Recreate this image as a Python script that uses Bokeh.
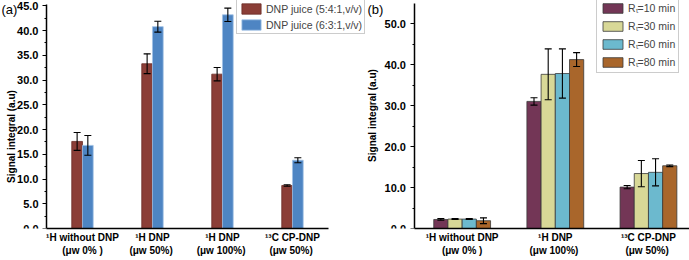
import math
from bokeh.plotting import figure
from bokeh.models import (ColumnDataSource, Whisker, TeeHead, Range1d, FixedTicker,
                          PrintfTickFormatter, Legend, LegendItem, Label)
from bokeh.layouts import row
from bokeh.embed import file_html
from bokeh.resources import INLINE

# ---------------- data: panel (a) ----------------
a_categories = ["¹H without DNP\n(μw 0% )", "¹H DNP\n(μw  50%)",
                "¹H DNP\n(μw  100%)", "¹³C CP-DNP\n(μw  50%)"]
a_series = ["DNP juice (5:4:1,v/v)", "DNP juice (6:3:1,v/v)"]
a_541 = [17.6, 33.3, 31.2, 8.7]
a_541_err = [1.8, 2.0, 1.35, 0.15]
a_631 = [16.8, 40.8, 43.2, 13.8]
a_631_err = [2.0, 1.1, 1.35, 0.5]
a_yticks = [0, 5, 10, 15, 20, 25, 30, 35, 40, 45]
a_yminor = [2.5, 7.5, 12.5, 17.5, 22.5, 27.5, 32.5, 37.5, 42.5]
a_ymax = 45.3

# ---------------- data: panel (b) ----------------
b_categories = ["¹H without DNP\n(μw 0% )", "¹H DNP\n(μw  100%)", "¹³C CP-DNP\n(μw  50%)"]
b_series = ["Rₜ=10 min", "Rₜ=30 min", "Rₜ=60 min", "Rₜ=80 min"]
b_10 = [2.2, 31.0, 10.1]
b_10_err = [0.2, 0.9, 0.4]
b_30 = [2.3, 37.6, 13.4]
b_30_err = [0.1, 6.2, 3.2]
b_60 = [2.3, 37.8, 13.7]
b_60_err = [0.1, 6.0, 3.3]
b_80 = [1.9, 41.2, 15.3]
b_80_err = [0.7, 1.7, 0.2]
b_yticks = [0, 10, 20, 30, 40, 50]
b_yminor = [5, 15, 25, 35, 45]
b_ymax = 55

FONT = "Liberation Sans"
H = 260
BOTTOM = 32
FRAME_H = H - BOTTOM


def make_panel(width, axis_px, unit_px, first_gap, axis_len_px, ymax, px_per_y,
               yticks, yminor, labels, ylabel_x, ylabel_y, tag, tag_x):
    n = len(labels)
    axis_x = 1 - first_gap          # data x where the y axis sits
    xstart = axis_x - axis_px / unit_px
    xend = xstart + width / unit_px
    p = figure(width=width, height=H, output_backend="svg", toolbar_location=None,
               x_range=Range1d(xstart, xend), y_range=Range1d(0, FRAME_H / px_per_y),
               min_border_left=0, min_border_right=0, min_border_top=0,
               min_border_bottom=BOTTOM)
    p.xgrid.visible = False
    p.ygrid.visible = False
    p.outline_line_color = None
    p.yaxis.fixed_location = axis_x
    p.yaxis.bounds = (0, ymax)
    p.xaxis.bounds = (axis_x, min(xend, axis_x + axis_len_px / unit_px))
    p.yaxis.ticker = FixedTicker(ticks=yticks, minor_ticks=yminor)
    p.yaxis.formatter = PrintfTickFormatter(format="%.1f")
    p.xaxis.ticker = FixedTicker(ticks=list(range(1, n + 1)))
    p.xaxis.major_label_overrides = {i + 1: lab for i, lab in enumerate(labels)}
    for ax in (p.xaxis[0], p.yaxis[0]):
        ax.axis_line_color = "black"
        ax.axis_line_width = 1.5
        ax.major_label_text_font = FONT
        ax.major_label_text_font_style = "bold"
        ax.major_label_text_color = "black"
    p.xaxis.major_label_text_font_size = "10px"
    p.yaxis.major_label_text_font_size = "11px"
    p.xaxis.major_tick_line_color = None
    p.xaxis.minor_tick_line_color = None
    p.xaxis.major_tick_in = 0
    p.xaxis.major_tick_out = 0
    p.xaxis.minor_tick_in = 0
    p.xaxis.minor_tick_out = 0
    p.xaxis.major_label_standoff = 3
    p.yaxis.major_tick_in = 0
    p.yaxis.major_tick_out = 4
    p.yaxis.minor_tick_in = 0
    p.yaxis.minor_tick_out = 2
    p.yaxis.major_tick_line_color = "black"
    p.yaxis.minor_tick_line_color = "black"
    p.yaxis.major_tick_line_width = 1.2
    p.yaxis.major_label_standoff = 4
    p.add_layout(Label(x=ylabel_x, y=FRAME_H - ylabel_y, x_units="screen", y_units="screen",
                       text="Signal integral (a.u)", angle=math.pi / 2,
                       text_font=FONT, text_font_style="bold", text_font_size="10px",
                       text_align="center", text_baseline="middle", text_color="black"))
    p.add_layout(Label(x=tag_x, y=FRAME_H - 1, x_units="screen", y_units="screen",
                       text=tag, text_font=FONT, text_font_size="13px",
                       text_baseline="top", text_align="left", text_color="black"))
    return p


def add_bars(p, groups, series, colors, lines, bw):
    xs0 = list(range(1, len(groups[0][0]) + 1))
    items = []
    m = len(groups)
    for k, (vals, errs) in enumerate(groups):
        off = (k - (m - 1) / 2) * bw
        xs = [x + off for x in xs0]
        src = ColumnDataSource(dict(x=xs, top=vals,
                                    upper=[v + e for v, e in zip(vals, errs)],
                                    lower=[v - e for v, e in zip(vals, errs)]))
        r = p.vbar(x="x", top="top", width=bw, source=src, fill_color=colors[k],
                   line_color=lines[k], line_width=0.8)
        items.append(LegendItem(label=series[k], renderers=[r]))
        p.add_layout(Whisker(base="x", upper="upper", lower="lower", source=src,
                             line_color="black", line_width=1.1, level="overlay",
                             upper_head=TeeHead(size=7, line_color="black", line_width=1.1),
                             lower_head=TeeHead(size=7, line_color="black", line_width=1.1)))
    return items


# ---------------- panel (a) ----------------
pa = make_panel(365, 46, 70.0, 0.514, 282, a_ymax, 4.947, a_yticks, a_yminor,
                a_categories, ylabel_x=11, ylabel_y=136, tag="(a)", tag_x=1)
a_items = add_bars(pa, [(a_541, a_541_err), (a_631, a_631_err)], a_series,
                   ["#8B3E37", "#4E85C3"], ["#6a2c26", "#9fc0e4"], 0.153)
leg_a = Legend(items=a_items, location=(236, FRAME_H - 34), orientation="vertical",
               glyph_width=24, glyph_height=13, label_height=13, spacing=3, padding=2,
               margin=0, label_standoff=3, label_text_font=FONT, label_text_font_size="10.5px",
               border_line_color="#999999", border_line_width=1, background_fill_alpha=1)
pa.add_layout(leg_a, "center")

# ---------------- panel (b) ----------------
pb = make_panel(324, 48.5, 93.15, 0.517, 400, b_ymax, 4.1, b_yticks, b_yminor,
                b_categories, ylabel_x=7, ylabel_y=115, tag="(b)", tag_x=2)
b_items = add_bars(pb, [(b_10, b_10_err), (b_30, b_30_err), (b_60, b_60_err), (b_80, b_80_err)],
                   b_series, ["#733656", "#D8D897", "#6CB9CE", "#A9662B"],
                   ["#3a3a3a"] * 4, 0.1525)
leg_b = Legend(items=b_items, location=(231, FRAME_H - 73), orientation="vertical",
               glyph_width=25, glyph_height=12, label_height=12, spacing=4, padding=3,
               margin=0, label_standoff=3, label_text_font=FONT, label_text_font_size="10.5px",
               border_line_color="#999999", border_line_width=1, background_fill_alpha=1)
pb.add_layout(leg_b, "center")

layout = row(pa, pb)
open("out.html", "w").write(file_html(layout, INLINE))
